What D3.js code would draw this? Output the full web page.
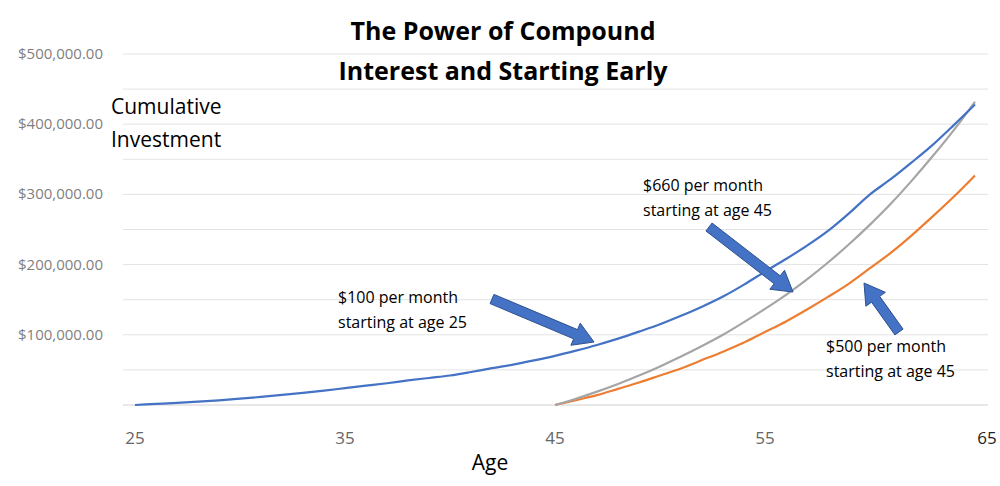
<!DOCTYPE html>
<html><head><meta charset="utf-8">
<script src="https://cdn.jsdelivr.net/npm/d3@7"></script>
<style>body{margin:0;background:#fff}text{font-family:"Open Sans","Liberation Sans",sans-serif}</style>
</head><body><svg id="c" width="1000" height="486"></svg>
<script>
const agesBlue = d3.range(25, 66);
const blueValues = [0,1.5,3,4.7,6.7,9,11.5,14.3,17.3,20.5,24,27.5,31,35,38.5,42,47,52.5,57.5,63.5,70,77.5,85.5,94.5,104.5,115,127,140,154.5,171.5,190,208,227,248,273,300,322,346,371,399,428];
const agesLate = d3.range(45, 66);
const greyValues = [0,9,19,30,42,55,69,84,100,118,137,157,179,203,229,257,287,320,355,392,432];
const orangeValues = [0,7,14,23,32,42,52,64,76,89,104,119,136,154,173,195,217,242,269,297,327];
const yTicks = [100000,200000,300000,400000,500000];
const xTicks = [25,35,45,55,65];

const svg = d3.select("#c");
const x = d3.scaleLinear().domain([25,65]).range([135,975]);
const y = d3.scaleLinear().domain([0,500000]).range([405,54]);

d3.range(0,500001,50000).forEach(v=>{
  svg.append("line").attr("x1",123).attr("x2",988).attr("y1",y(v)).attr("y2",y(v))
    .attr("stroke",v===0?"#d0d0d0":"#e3e3e3").attr("stroke-width",1);
});
const fmt = d3.format("$,.2f");
svg.selectAll(".yt").data(yTicks).join("text").attr("x",103).attr("y",d=>y(d)+5)
  .attr("text-anchor","end").attr("font-size",15).attr("fill","#7f7f7f").text(d=>fmt(d));
svg.selectAll(".xt").data(xTicks).join("text").attr("x",d=>d===65?987:x(d)).attr("y",444)
  .attr("text-anchor","middle").attr("font-size",17).attr("fill",d=>d===65?"#222":"#666").text(d=>d);

const line = d3.line().x(d=>x(d[0])).y(d=>y(d[1]*1000)).curve(d3.curveMonotoneX);
const series = [
  [agesLate, orangeValues, "#ed7d31"],
  [agesLate, greyValues, "#a5a5a5"],
  [agesBlue, blueValues, "#4472c4"]
];
series.forEach(([a,v,c])=>{
  svg.append("path").attr("d",line(a.map((d,i)=>[d,v[i]]))).attr("fill","none")
    .attr("stroke",c).attr("stroke-width",2.2);
});

function arrow(x1,y1,x2,y2){
  const dx=x2-x1, dy=y2-y1, L=Math.hypot(dx,dy), ux=dx/L, uy=dy/L, px=-uy, py=ux;
  const hw=5, hh=12, hl=20, bx=x2-ux*hl, by=y2-uy*hl;
  const pts=[[x1+px*hw,y1+py*hw],[bx+px*hw,by+py*hw],[bx+px*hh,by+py*hh],[x2,y2],
    [bx-px*hh,by-py*hh],[bx-px*hw,by-py*hw],[x1-px*hw,y1-py*hw]];
  svg.append("polygon").attr("points",pts.map(p=>p.join(",")).join(" "))
    .attr("fill","#4472c4").attr("stroke","#2f528f").attr("stroke-width",1);
}
arrow(492,299,594,342);
arrow(709,227,793,292);
arrow(899,332,864,283);

function multi(tx,ty,lines,size,weight,anchor,lh){
  lines.forEach((t,i)=>svg.append("text").attr("x",tx).attr("y",ty+i*lh).attr("font-size",size)
    .attr("font-weight",weight).attr("text-anchor",anchor).attr("fill","#000").text(t));
}
multi(503,40,["The Power of Compound","Interest and Starting Early"],25,"bold","middle",40);
multi(111,114,["Cumulative","Investment"],21,"normal","start",33);
multi(338,303,["$100 per month","starting at age 25"],16,"normal","start",25);
multi(643,191,["$660 per month","starting at age 45"],16,"normal","start",25);
multi(826,352,["$500 per month","starting at age 45"],16,"normal","start",25);
svg.append("text").attr("x",490).attr("y",470).attr("font-size",21).attr("text-anchor","middle").text("Age");
</script></body></html>
